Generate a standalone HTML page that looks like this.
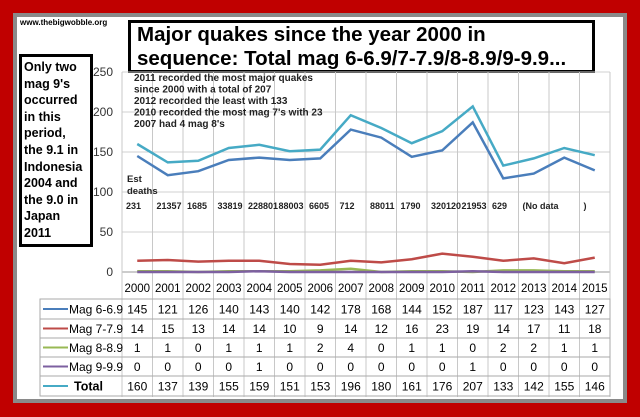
<!DOCTYPE html>
<html><head><meta charset="utf-8"><style>
body{margin:0;width:640px;height:417px;background:#c00000;overflow:hidden;font-family:"Liberation Sans",sans-serif}
#frame{position:absolute;left:13px;top:13px;width:606px;height:382px;border:4px solid #8a8a8a;background:#fff}
.t{position:absolute;font-weight:bold;color:#000}
</style></head><body>
<div id="frame"></div>
<div class="t" style="left:20px;top:18px;font-size:8px">www.thebigwobble.org</div>
<div class="t" style="left:128px;top:20px;width:455px;height:47px;border:3px solid #000;background:#fff;font-size:20.5px;line-height:23.5px;padding-left:6px;white-space:nowrap">Major quakes since the year 2000 in<br>sequence: Total mag 6-6.9/7-7.9/8-8.9/9-9.9...</div>
<div class="t" style="left:19px;top:54px;width:66px;height:185px;border:3px solid #000;background:#fff;font-size:12.5px;line-height:16.6px;padding-left:2px;padding-top:2px;white-space:nowrap;overflow:hidden">Only two<br>mag 9's<br>occurred<br>in this<br>period,<br>the 9.1 in<br>Indonesia<br>2004 and<br>the 9.0 in<br>Japan<br>2011</div>
<svg id="chart" width="640" height="417" style="position:absolute;left:0;top:0"></svg>
<script>
const years=["2000","2001","2002","2003","2004","2005","2006","2007","2008","2009","2010","2011","2012","2013","2014","2015"];
const mag6=[145,121,126,140,143,140,142,178,168,144,152,187,117,123,143,127];
const mag7=[14,15,13,14,14,10,9,14,12,16,23,19,14,17,11,18];
const mag8=[1,1,0,1,1,1,2,4,0,1,1,0,2,2,1,1];
const mag9=[0,0,0,0,1,0,0,0,0,0,0,1,0,0,0,0];
const total=[160,137,139,155,159,151,153,196,180,161,176,207,133,142,155,146];
const deaths=["231","21357","1685","33819","228801","88003","6605","712","88011","1790","320120","21953","629","(No data","","   )"];
const yTicks=[0,50,100,150,200,250];
const notes=["2011 recorded the most major quakes","since 2000 with a total of 207","2012 recorded the least with 133","2010 recorded the most mag 7's with 23","2007 had 4 mag 8's"];
const seriesNames=["Mag 6-6.9","Mag 7-7.9","Mag 8-8.9","Mag 9-9.9","Total"];
const seriesData=[mag6,mag7,mag8,mag9,total];
const colors=["#4a7ebb","#be4b48","#98b954","#7d60a0","#46aac5"];
const svg=document.getElementById('chart');const NS='http://www.w3.org/2000/svg';
const X0=122,CW=30.5,Y0=272,K=0.8;
const xc=i=>X0+CW*(i+0.5), y=v=>Y0-v*K;
function mk(t,a,p){const e=document.createElementNS(NS,t);for(const k in a)e.setAttribute(k,a[k]);(p||svg).appendChild(e);return e;}
yTicks.forEach(v=>{const g=mk('line',{x1:X0,x2:X0+CW*16,y1:y(v),y2:y(v),stroke:v?'#d0d0d0':'#999','stroke-width':1});

const t=mk('text',{x:113,y:y(v)+4,'text-anchor':'end','font-size':12,fill:'#333'});t.textContent=v;
});
for(let i=0;i<=16;i++){const l=mk('line',{x1:X0+CW*i,x2:X0+CW*i,y1:y(250),y2:397,stroke:'#c8c8c8'});}
years.forEach((yr,i)=>{const t=mk('text',{x:xc(i),y:292,'text-anchor':'middle','font-size':11.5,fill:'#000'});t.textContent=yr;
});
seriesData.forEach((d,s)=>{const p=mk('polyline',{points:d.map((v,i)=>xc(i)+','+y(v)).join(' '),fill:'none',stroke:colors[s],'stroke-width':2.5});
});
notes.forEach((n,i)=>{const t=mk('text',{x:134,y:81+i*11.5,'font-size':10,'font-weight':'bold',fill:'#222'});t.textContent=n;
});
[["Est",182],["deaths",194]].forEach(a=>{const t=mk('text',{x:127,y:a[1],'font-size':9.5,'font-weight':'bold',fill:'#222'});t.textContent=a[0];});
deaths.forEach((d,i)=>{const t=mk('text',{x:X0+CW*i+4,y:209,'font-size':9,'font-weight':'bold',fill:'#222'});t.textContent=d;
});
const RY=[299,319,338,357,376,396];
mk('rect',{x:40,y:RY[0],width:X0+CW*16-40,height:RY[5]-RY[0],fill:'none',stroke:'#aaa'});
RY.forEach(r=>mk('line',{x1:40,x2:X0+CW*16,y1:r,y2:r,stroke:'#aaa'}));
seriesData.forEach((d,s)=>{const cy=(RY[s]+RY[s+1])/2;
const l=mk('line',{x1:43,x2:68,y1:cy,y2:cy,stroke:colors[s],'stroke-width':2});
const t=mk('text',{x:s==4?74:69,y:cy+4.5,'font-size':s==4?12.5:12,'font-weight':s==4?'bold':'normal',fill:'#000'});t.textContent=seriesNames[s];

d.forEach((v,i)=>{const c=mk('text',{x:xc(i),y:cy+4.5,'text-anchor':'middle','font-size':12,fill:'#000'});c.textContent=v;
});});
</script>
</body></html>
